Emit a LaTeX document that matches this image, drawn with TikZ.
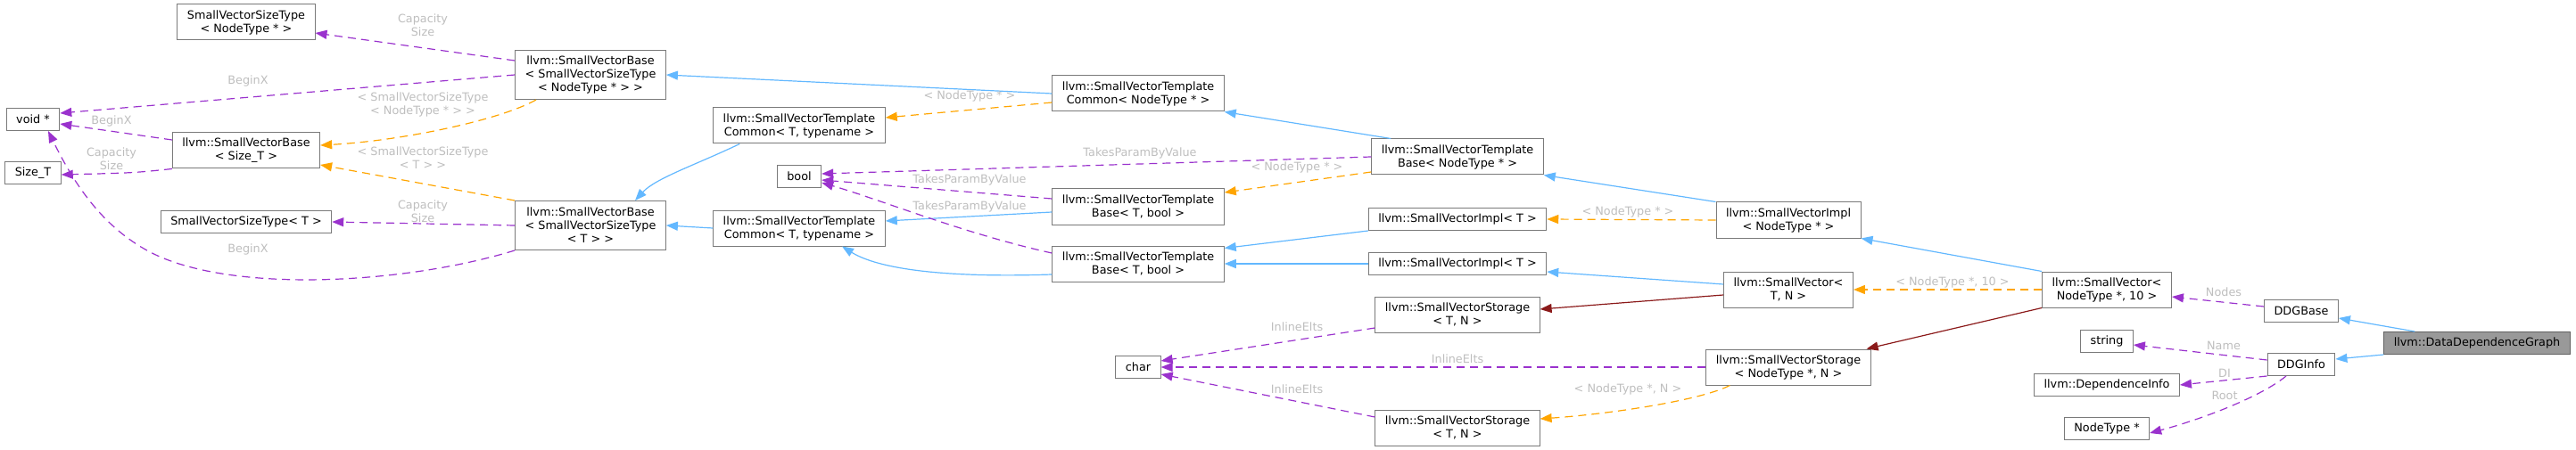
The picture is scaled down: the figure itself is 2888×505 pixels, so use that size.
\documentclass[tikz,border=0pt]{standalone}
\usepackage{fontspec}
\setmainfont{DejaVu Sans}
\usepackage{xcolor}
\usepackage{tikz}
\usetikzlibrary{arrows.meta}
\definecolor{ddgblue}{HTML}{63B8FF}
\definecolor{ddgred}{HTML}{8B1A1A}
\definecolor{ddgorange}{HTML}{FFA500}
\definecolor{ddgpurple}{HTML}{9A32CD}
\definecolor{ddglabel}{HTML}{BEBEBE}
\definecolor{ddgedge}{HTML}{7A7A7A}
\definecolor{ddgfill}{HTML}{999999}

\tikzset{
  cls/.style={draw=ddgedge,line width=1pt,fill=white,align=center,inner xsep=11pt,
    inner ysep=2pt,minimum height=25pt,font=\fontsize{12.8}{15}\selectfont},
  twoline/.style={minimum height=40pt},
  threeline/.style={minimum height=55pt},
  lbl/.style={text=ddglabel,align=center,font=\fontsize{12.8}{15}\selectfont,inner sep=0pt},
  inh/.style={ddgblue,line width=1.2pt,-{Triangle[length=13pt,width=10pt]}},
  own/.style={ddgred,line width=1.2pt,-{Triangle[length=13pt,width=10pt]}},
  tmpl/.style={ddgorange,line width=1.2pt,dash pattern=on 9pt off 6pt,-{Triangle[length=13pt,width=10pt]}},
  use/.style={ddgpurple,line width=1.2pt,dash pattern=on 9pt off 6pt,-{Triangle[length=13pt,width=10pt]}}
}

\begin{document}
\begin{tikzpicture}[x=1pt,y=-1pt]
  \useasboundingbox (0,0) rectangle (2888,505);
  % classes
  \node[cls,twoline] (svstnt) at (276,25) {SmallVectorSizeType\\< NodeType * >};
  \node[cls] (voidp) at (37,134) {void *};
  \node[cls] (sizet) at (37,194) {Size\_T};
  \node[cls,twoline] (svbsize) at (276,169) {llvm::SmallVectorBase\\< Size\_T >};
  \node[cls,threeline] (svbnt) at (662,84) {llvm::SmallVectorBase\\< SmallVectorSizeType\\< NodeType * > >};
  \node[cls] (svstt) at (276,249) {SmallVectorSizeType< T >};
  \node[cls,threeline] (svbt) at (662,253) {llvm::SmallVectorBase\\< SmallVectorSizeType\\< T > >};
  \node[cls,twoline] (svtcnt) at (1276,105) {llvm::SmallVectorTemplate\\Common< NodeType * >};
  \node[cls,twoline] (svtcta) at (896,141) {llvm::SmallVectorTemplate\\Common< T, typename >};
  \node[cls] (boolt) at (896,198) {bool};
  \node[cls,twoline] (svtbta) at (1276,232) {llvm::SmallVectorTemplate\\Base< T, bool >};
  \node[cls,twoline] (svtctb) at (896,256) {llvm::SmallVectorTemplate\\Common< T, typename >};
  \node[cls,twoline] (svtbtb) at (1276,296) {llvm::SmallVectorTemplate\\Base< T, bool >};
  \node[cls,twoline] (svtbnt) at (1634,176) {llvm::SmallVectorTemplate\\Base< NodeType * >};
  \node[cls] (chart) at (1276,412) {char};
  \node[cls] (svita) at (1634,246) {llvm::SmallVectorImpl< T >};
  \node[cls] (svitb) at (1634,296) {llvm::SmallVectorImpl< T >};
  \node[cls,twoline] (svsta) at (1634,353) {llvm::SmallVectorStorage\\< T, N >};
  \node[cls,twoline] (svstb) at (1634,480) {llvm::SmallVectorStorage\\< T, N >};
  \node[cls,twoline] (svint) at (2005,247) {llvm::SmallVectorImpl\\< NodeType * >};
  \node[cls,twoline] (svtn) at (2005,325) {llvm::SmallVector<\\T, N >};
  \node[cls,twoline] (svsnt) at (2005,412) {llvm::SmallVectorStorage\\< NodeType *, N >};
  \node[cls,twoline] (svnt10) at (2362,325) {llvm::SmallVector<\\NodeType *, 10 >};
  \node[cls] (stringt) at (2362,383) {string};
  \node[cls] (depinfo) at (2362,432) {llvm::DependenceInfo};
  \node[cls] (nodetp) at (2362,481) {NodeType *};
  \node[cls] (ddgbase) at (2580,349) {DDGBase};
  \node[cls] (ddginfo) at (2580,409) {DDGInfo};
  \node[cls,draw=ddgedge!80!black,fill=ddgfill] (ddg) at (2777,385) {llvm::DataDependenceGraph};

  % inheritance
  \draw[inh] (svtcnt.west) -- (svbnt.east);
  \draw[inh] (svtctb.west) -- (svbt.east);
  \draw[inh] ([xshift=30pt]svtcta.south west) .. controls (780,185) and (735,200) .. ([xshift=50pt]svbt.north);
  \draw[inh] ([xshift=22pt]svtbnt.north west) -- (svtcnt.south east);
  \draw[inh] ([yshift=-6pt]svtbta.west) -- ([yshift=8pt]svtctb.east);
  \draw[inh] ([yshift=-12pt]svtbtb.west) .. controls (1060,312) and (985,302) .. ([xshift=48pt]svtctb.south);
  \draw[inh] (svint.north west) -- (svtbnt.south east);
  \draw[inh] (svita.south west) -- ([yshift=-3pt]svtbtb.north east);
  \draw[inh] (svitb.west) -- (svtbtb.east);
  \draw[inh] (svnt10.north west) -- (svint.south east);
  \draw[inh] ([yshift=6pt]svtn.west) -- ([yshift=4pt]svitb.south east);
  \draw[inh] ([xshift=35pt]ddg.north west) -- ([yshift=-8pt]ddgbase.east);
  \draw[inh] (ddg.south west) -- ([yshift=6pt]ddginfo.east);

  % storage
  \draw[own] ([yshift=-6pt]svtn.west) -- ([yshift=6pt]svsta.east);
  \draw[own] (svnt10.south west) -- ([xshift=-5pt]svsnt.north east);

  % template instances
  \draw[tmpl] ([xshift=24pt]svbnt.south west) .. controls (560,135) and (450,158) .. ([yshift=6pt]svbsize.east)
    node[lbl] at (474,117) {< SmallVectorSizeType\\< NodeType * > >};
  \draw[tmpl] (svbt.north west) -- ([yshift=-16pt]svbsize.east)
    node[lbl] at (474,177) {< SmallVectorSizeType\\< T > >};
  \draw[tmpl] ([yshift=-10pt]svtcnt.west) -- ([yshift=9pt]svtcta.east)
    node[lbl] at (1087,108) {< NodeType * >};
  \draw[tmpl] ([yshift=-17pt]svtbnt.west) -- ([yshift=16pt]svtbta.east)
    node[lbl] at (1454,188) {< NodeType * >};
  \draw[tmpl] (svint.west) -- (svita.east)
    node[lbl] at (1825,238) {< NodeType * >};
  \draw[tmpl] (svnt10.west) -- (svtn.east)
    node[lbl] at (2189,317) {< NodeType *, 10 >};
  \draw[tmpl] ([xshift=27pt]svsnt.south west) .. controls (1905,450) and (1800,465) .. ([yshift=10pt]svstb.east)
    node[lbl] at (1825,437) {< NodeType *, N >};

  % members
  \draw[use] ([yshift=16pt]svbnt.west) -- ([yshift=-12pt]svstnt.east)
    node[lbl] at (474,28) {Capacity\\Size};
  \draw[use] (svbnt.west) -- ([yshift=7pt]voidp.east)
    node[lbl] at (278,91) {BeginX};
  \draw[use] ([yshift=12pt]svbsize.west) -- ([yshift=-5pt]voidp.east)
    node[lbl] at (125,136) {BeginX};
  \draw[use] (svbsize.south west) .. controls (150,194) .. ([yshift=-2pt]sizet.east)
    node[lbl] at (125,178) {Capacity\\Size};
  \draw[use] (svbt.west) -- (svstt.east)
    node[lbl] at (474,237) {Capacity\\Size};
  \draw[use] (svbt.south west) .. controls (450,320) and (250,330) .. (163,280)
    .. controls (110,250) and (80,200) .. ([xshift=17pt]voidp.south)
    node[lbl] at (278,280) {BeginX};
  \draw[use] (svtbnt.west) -- ([yshift=3pt]boolt.east)
    node[lbl] at (1278,172) {TakesParamByValue};
  \draw[use] ([yshift=9pt]svtbta.west) -- ([yshift=-4pt]boolt.east)
    node[lbl] at (1087,202) {TakesParamByValue};
  \draw[use] ([yshift=12pt]svtbtb.west) .. controls (1080,262) and (990,225) .. ([yshift=-7pt]boolt.east)
    node[lbl] at (1087,232) {TakesParamByValue};
  \draw[use] ([yshift=-15pt]svsta.west) -- ([yshift=7pt]chart.east)
    node[lbl] at (1454,367) {InlineElts};
  \draw[use] (svsnt.west) -- (chart.east)
    node[lbl] at (1634,403) {InlineElts};
  \draw[use] ([yshift=12pt]svstb.west) -- ([yshift=-8pt]chart.east)
    node[lbl] at (1454,437) {InlineElts};
  \draw[use] ([yshift=5pt]ddgbase.west) -- ([yshift=-8pt]svnt10.east)
    node[lbl] at (2493,328) {Nodes};
  \draw[use] ([yshift=5pt]ddginfo.west) -- ([yshift=-4pt]stringt.east)
    node[lbl] at (2493,388) {Name};
  \draw[use] (ddginfo.south west) -- (depinfo.east)
    node[lbl] at (2494,419) {DI};
  \draw[use] ([xshift=-17pt]ddginfo.south) .. controls (2535,445) and (2470,470) .. ([yshift=-5pt]nodetp.east)
    node[lbl] at (2494,444) {Root};
\end{tikzpicture}
\end{document}
